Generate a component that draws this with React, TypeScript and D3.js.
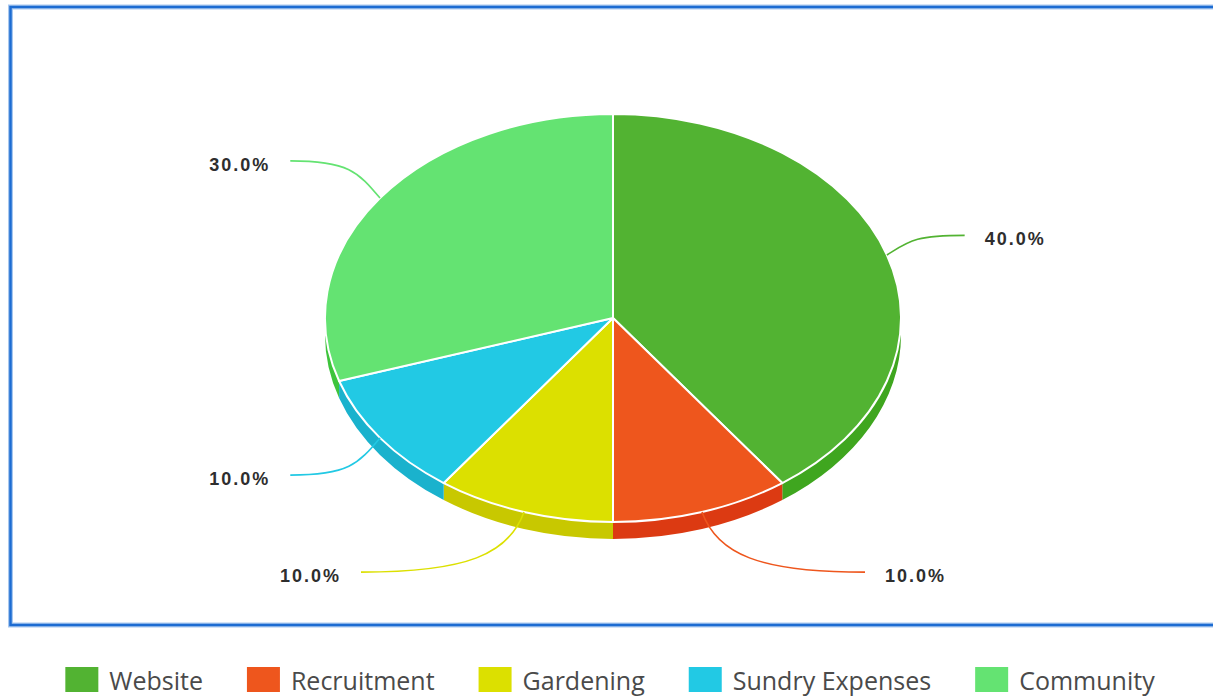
import React, { useEffect, useRef } from "react";
import * as d3 from "d3";

const categories = ["Website", "Recruitment", "Gardening", "Sundry Expenses", "Community"];
const values = [40, 10, 10, 10, 30];
const topColors = ["#52b332", "#ee561d", "#dce000", "#22c9e4", "#64e372"];
const sideColors = ["#3fa61f", "#dc3a12", "#c8c800", "#1ab2cd", "#3ec43c"];

const W = 1213;
const H = 696;

export default function App() {
  const ref = useRef<SVGSVGElement>(null);

  useEffect(() => {
    const svg = d3.select(ref.current);
    svg.selectAll("*").remove();

    // frame
    svg
      .append("rect")
      .attr("x", 10.5)
      .attr("y", 7)
      .attr("width", 1230)
      .attr("height", 618)
      .attr("fill", "none")
      .attr("stroke", "#a9c8ef")
      .attr("stroke-width", 5);
    svg
      .append("rect")
      .attr("x", 10.5)
      .attr("y", 7)
      .attr("width", 1230)
      .attr("height", 618)
      .attr("fill", "none")
      .attr("stroke", "#1d6cd2")
      .attr("stroke-width", 2.5);

    const cx = 613;
    const cy = 318;
    const rx = 288;
    const ry = 204;
    const depth = 17;

    const pie = d3
      .pie<number>()
      .sort(null)
      .value((d) => d)
      .startAngle(0)
      .endAngle(2 * Math.PI);
    const arcs = pie(values);

    const P = (a: number, dy = 0): [number, number] => [
      cx + rx * Math.sin(a),
      cy - ry * Math.cos(a) + dy,
    ];

    // side walls
    const gSide = svg.append("g");
    arcs.forEach((a, i) => {
      const b0 = Math.max(a.startAngle, Math.PI / 2);
      const b1 = Math.min(a.endAngle, (3 * Math.PI) / 2);
      if (b1 <= b0) return;
      const p0 = P(b0);
      const p1 = P(b1);
      const q1 = P(b1, depth);
      const q0 = P(b0, depth);
      const large = b1 - b0 > Math.PI ? 1 : 0;
      const d = `M${p0[0]},${p0[1]} A${rx},${ry} 0 ${large} 1 ${p1[0]},${p1[1]} L${q1[0]},${q1[1]} A${rx},${ry} 0 ${large} 0 ${q0[0]},${q0[1]} Z`;
      gSide.append("path").attr("d", d).attr("fill", sideColors[i]);
    });

    // top faces
    const arcGen = d3.arc<d3.PieArcDatum<number>>().innerRadius(0).outerRadius(rx);
    const gTop = svg
      .append("g")
      .attr("transform", `translate(${cx},${cy}) scale(1,${ry / rx})`);
    arcs.forEach((a, i) => {
      gTop
        .append("path")
        .attr("d", arcGen(a) as string)
        .attr("fill", topColors[i])
        .attr("stroke", "#ffffff")
        .attr("stroke-width", 2)
        .attr("vector-effect", "non-scaling-stroke")
        .attr("stroke-linejoin", "round");
    });

    // leader lines + labels
    const gLab = svg.append("g");
    const total = d3.sum(values);
    arcs.forEach((a, i) => {
      const mid = (a.startAngle + a.endAngle) / 2;
      const s = Math.sin(mid);
      const c = Math.cos(mid);
      const p0 = P(mid);
      const side = s >= 0 ? 1 : -1;
      const dx = Math.max(Math.abs(rx * s) * 0.707 + 158, 252);
      const ex = cx + side * dx;
      const ey = cy - 1.31 * ry * c;
      const c1x = p0[0] + (ex - p0[0]) * 0.3 * Math.abs(s);
      const c1y = p0[1] + (ey - p0[1]) * 0.7;
      const c2x = ex + (p0[0] - ex) * 0.65;
      const c2y = ey;
      gLab
        .append("path")
        .attr("d", `M${p0[0]},${p0[1]} C${c1x},${c1y} ${c2x},${c2y} ${ex},${ey}`)
        .attr("fill", "none")
        .attr("stroke", topColors[i])
        .attr("stroke-width", 1.6);
      gLab
        .append("text")
        .attr("x", ex + side * 20)
        .attr("y", ey + 10)
        .attr("text-anchor", side > 0 ? "start" : "end")
        .attr("font-family", "'Liberation Sans', Arial, sans-serif")
        .attr("font-weight", "bold")
        .attr("font-size", 18)
        .attr("letter-spacing", 2)
        .attr("fill", "#2e2e2e")
        .text(d3.format(".1%")(values[i] / total));
    });

    // legend
    const gLeg = svg.append("g");
    const sq = 33;
    const items: { g: d3.Selection<SVGGElement, unknown, null, undefined>; w: number }[] = [];
    categories.forEach((name, i) => {
      const g = gLeg.append("g");
      g.append("rect")
        .attr("x", 0)
        .attr("y", 667)
        .attr("width", sq)
        .attr("height", 25)
        .attr("fill", topColors[i]);
      const t = g
        .append("text")
        .attr("x", sq + 11)
        .attr("y", 690)
        .attr("font-family", "'Open Sans', sans-serif")
        .attr("font-size", 25)
        .attr("fill", "#4a4a4a")
        .text(name);
      const tw = (t.node() as SVGTextElement).getComputedTextLength();
      items.push({ g, w: sq + 11 + tw });
    });
    const gap = 44;
    const totalW = d3.sum(items, (d) => d.w) + gap * (items.length - 1);
    let x0 = 610 - totalW / 2;
    items.forEach((it) => {
      it.g.attr("transform", `translate(${x0},0)`);
      x0 += it.w + gap;
    });
  }, []);

  return (
    <svg
      ref={ref}
      width={W}
      height={H}
      style={{ position: "absolute", left: 0, top: 0, background: "#ffffff" }}
    />
  );
}
